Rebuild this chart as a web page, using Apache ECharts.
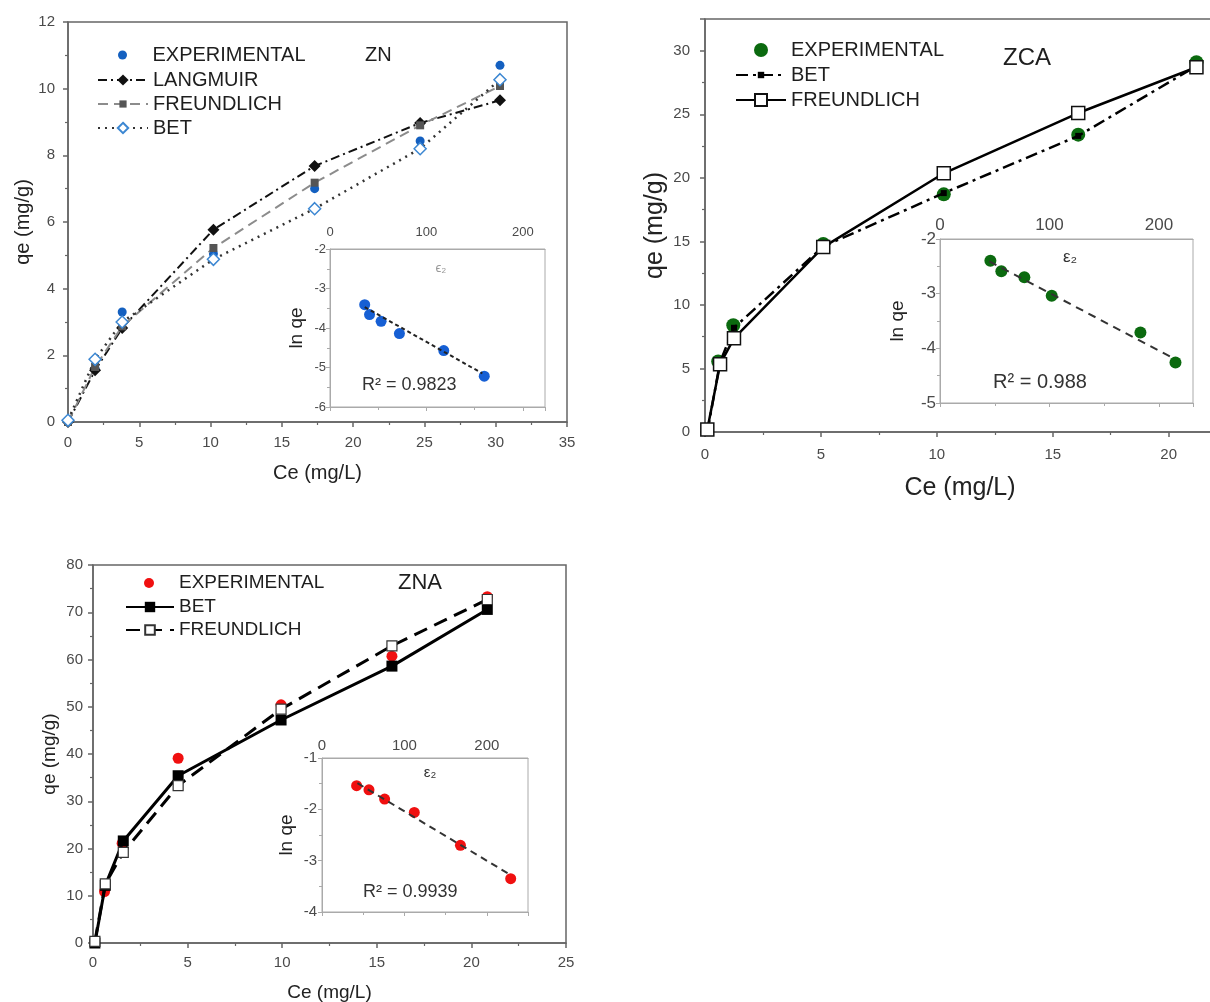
<!DOCTYPE html>
<html>
<head>
<meta charset="utf-8">
<script src="https://cdn.jsdelivr.net/npm/echarts@6/dist/echarts.min.js"></script>
<style>
  html, body { margin: 0; padding: 0; background: #fff; }
  #main { width: 1210px; height: 1002px; }
</style>
</head>
<body>
<div id="main"></div>
<script>
(function () {
    'use strict';
    var FONT = "Arial, 'Liberation Sans', Helvetica, sans-serif";

    // ZN
    var znCeExp = [1.9, 3.8, 10.2, 17.3, 24.7, 30.3];
    var znExp = [1.6, 3.3, 5.05, 7.0, 8.43, 10.7];
    var znCeFit = [0, 1.9, 3.8, 10.2, 17.3, 24.7, 30.3];
    var znLangmuir = [0, 1.55, 2.82, 5.77, 7.68, 8.97, 9.65];
    var znFreundlich = [0, 1.65, 2.87, 5.22, 7.18, 8.9, 10.08];
    var znBet = [0.05, 1.88, 3.0, 4.88, 6.4, 8.2, 10.27];
    var znEps = [36, 41, 53, 72, 118, 160];
    var znLnqe = [-3.41, -3.66, -3.83, -4.14, -4.57, -5.22];
    var znFitEps = [36, 158];
    var znFitLnqe = [-3.47, -5.15];

    // ZCA
    var zcaCeExp = [0.57, 1.22, 5.1, 10.3, 16.1, 21.2];
    var zcaExp = [5.55, 8.4, 14.8, 18.7, 23.4, 29.1];
    var zcaCeFit = [0.1, 0.65, 1.25, 5.1, 10.3, 16.1, 21.2];
    var zcaBet = [0, 5.5, 8.2, 14.6, 18.8, 23.3, 28.8];
    var zcaFreundlich = [0.2, 5.34, 7.37, 14.55, 20.36, 25.1, 28.7];
    var zcaEps = [46, 56, 77, 102, 183, 215];
    var zcaLnqe = [-2.40, -2.59, -2.70, -3.04, -3.71, -4.26];
    var zcaFitEps = [45, 214];
    var zcaFitLnqe = [-2.41, -4.19];

    // ZNA
    var znaCeExp = [0.61, 1.54, 4.5, 9.94, 15.8, 20.84];
    var znaExp = [10.9, 21.1, 39.1, 50.4, 60.7, 73.3];
    var znaCeFit = [0.1, 0.65, 1.6, 4.5, 9.94, 15.8, 20.84];
    var znaBet = [0, 12.2, 21.6, 35.4, 47.2, 58.6, 70.6];
    var znaFreundlich = [0.35, 12.5, 19.2, 33.3, 49.5, 62.9, 72.7];
    var znaEps = [42, 57, 76, 112, 168, 229];
    var znaLnqe = [-1.54, -1.62, -1.80, -2.06, -2.70, -3.35];
    var znaFitEps = [43, 228];
    var znaFitLnqe = [-1.49, -3.27];

    function pairs(xs, ys) {
        return xs.map(function (x, i) { return [x, ys[i]]; });
    }

    var AXIS = '#666';
    var LABEL = '#4a4a4a';

    function mainX(gi, max, fs, nameFs, gap, margin, showMax) {
        return {
            type: 'value', gridIndex: gi, min: 0, max: max, interval: 5,
            name: 'Ce (mg/L)', nameLocation: 'middle', nameGap: gap,
            nameTextStyle: { fontFamily: FONT, fontSize: nameFs, color: '#222' },
            axisLine: { show: true, onZero: false, lineStyle: { color: AXIS, width: 1.5 } },
            axisTick: { show: true, length: 5, lineStyle: { color: AXIS, width: 1.5 } },
            minorTick: { show: true, splitNumber: 2, length: 3, lineStyle: { color: AXIS, width: 1.2 } },
            axisLabel: { fontFamily: FONT, fontSize: fs, color: LABEL, margin: margin, showMaxLabel: showMax },
            splitLine: { show: false }
        };
    }

    function mainY(gi, max, interval, fs, nameFs, gap, margin, showMax) {
        return {
            type: 'value', gridIndex: gi, min: 0, max: max, interval: interval,
            name: 'qe (mg/g)', nameLocation: 'middle', nameGap: gap,
            nameTextStyle: { fontFamily: FONT, fontSize: nameFs, color: '#222' },
            axisLine: { show: true, onZero: false, lineStyle: { color: AXIS, width: 1.5 } },
            axisTick: { show: true, length: 5, lineStyle: { color: AXIS, width: 1.5 } },
            minorTick: { show: true, splitNumber: 2, length: 3, lineStyle: { color: AXIS, width: 1.2 } },
            axisLabel: { fontFamily: FONT, fontSize: fs, color: LABEL, margin: margin, showMaxLabel: showMax },
            splitLine: { show: false }
        };
    }

    function insetTopX(gi, max, fs, margin) {
        return {
            type: 'value', gridIndex: gi, position: 'top', min: 0, max: max, interval: 100,
            axisLine: { show: true, lineStyle: { color: '#aaa' } },
            axisTick: { show: false },
            axisLabel: { fontFamily: FONT, fontSize: fs, color: LABEL, margin: margin, showMaxLabel: false },
            splitLine: { show: false }
        };
    }

    function insetBottomX(gi, max) {
        return {
            type: 'value', gridIndex: gi, position: 'bottom', min: 0, max: max, interval: 100,
            axisLine: { show: true, lineStyle: { color: '#aaa' } },
            axisTick: { show: true, length: 4, lineStyle: { color: '#aaa' } },
            minorTick: { show: true, splitNumber: 2, length: 3, lineStyle: { color: '#aaa' } },
            axisLabel: { show: false },
            splitLine: { show: false }
        };
    }

    function insetY(gi, min, max, fs, nameFs, gap, margin) {
        return {
            type: 'value', gridIndex: gi, min: min, max: max, interval: 1,
            name: 'ln qe', nameLocation: 'middle', nameGap: gap,
            nameTextStyle: { fontFamily: FONT, fontSize: nameFs, color: '#222' },
            axisLine: { show: true, onZero: false, lineStyle: { color: '#aaa' } },
            axisTick: { show: true, length: 4, lineStyle: { color: '#aaa' } },
            minorTick: { show: true, splitNumber: 2, length: 3, lineStyle: { color: '#aaa' } },
            axisLabel: { fontFamily: FONT, fontSize: fs, color: LABEL, margin: margin },
            splitLine: { show: false }
        };
    }

    function legendRow(name, left, cy, w, h, fs) {
        return {
            data: [name], left: left, top: cy - Math.max(h, fs) / 2, orient: 'vertical', padding: 0,
            itemWidth: w, itemHeight: h, selectedMode: false,
            formatter: function (n) { return n.split('|')[1]; },
            textStyle: { fontFamily: FONT, fontSize: fs, color: '#1e1e1e' }
        };
    }

    function label(text, x, y, fs, color, align) {
        return {
            type: 'text', x: x, y: y, z: 100,
            style: { text: text, fontFamily: FONT, fontSize: fs, fill: color, align: align || 'left', verticalAlign: 'middle' }
        };
    }

    var mainGrid = { show: true, borderColor: AXIS, borderWidth: 1.5, outerBoundsMode: 'none' };
    var insetGrid = { show: true, borderColor: '#aaa', borderWidth: 1, backgroundColor: '#fff', outerBoundsMode: 'none' };
    function grid(base, l, t, w, h) {
        return Object.assign({}, base, { left: l, top: t, width: w, height: h });
    }

    var option = {
        animation: false,
        backgroundColor: '#fff',
        grid: [
            grid(mainGrid, 68, 22, 499, 400),
            grid(insetGrid, 330, 249, 215, 158),
            grid(mainGrid, 705, 19, 510, 413),
            grid(insetGrid, 940, 239, 253, 164),
            grid(mainGrid, 93, 565, 473, 378),
            grid(insetGrid, 322, 758, 206, 154)
        ],
        xAxis: [
            mainX(0, 35, 15, 20, 41, 13, true),
            insetTopX(1, 223, 13, 10),
            insetBottomX(1, 223),
            mainX(2, 22, 15, 25, 44, 15, false),
            insetTopX(3, 231, 17, 5),
            insetBottomX(3, 231),
            mainX(4, 25, 15, 19, 40, 12, true),
            insetTopX(5, 250, 15, 5),
            insetBottomX(5, 250)
        ],
        yAxis: [
            mainY(0, 12, 2, 15, 20, 35, 13, true),
            insetY(1, -6, -2, 13, 19, 24, 4),
            mainY(2, 32.5, 5, 15, 25, 37, 15, false),
            insetY(3, -5, -2, 17, 19, 33, 4),
            mainY(4, 80, 10, 15, 19, 34, 10, true),
            insetY(5, -4, -1, 15, 19, 26, 5)
        ],
        legend: [
            legendRow('ZN|EXPERIMENTAL', 118, 55, 50, 9, 20),
            legendRow('ZN|LANGMUIR', 97, 80, 50, 14, 20),
            legendRow('ZN|FREUNDLICH', 97, 104, 50, 9, 20),
            legendRow('ZN|BET', 97, 128, 50, 13, 20),
            legendRow('ZCA|EXPERIMENTAL', 754, 50, 50, 14, 20),
            legendRow('ZCA|BET', 735, 75, 50, 8, 20),
            legendRow('ZCA|FREUNDLICH', 735, 100, 50, 15, 20),
            legendRow('ZNA|EXPERIMENTAL', 144, 583, 50, 10, 19),
            legendRow('ZNA|BET', 125, 607, 48, 13, 19),
            legendRow('ZNA|FREUNDLICH', 125, 630, 48, 12, 19)
        ],
        graphic: [
            label('ZN', 365, 55, 20, '#1e1e1e'),
            label('ZCA', 1003, 58, 24, '#1e1e1e'),
            label('ZNA', 398, 583, 22, '#1e1e1e'),
            label('R\u00b2 = 0.9823', 362, 385, 18, '#333'),
            label('R\u00b2 = 0.988', 993, 382, 20, '#333'),
            label('R\u00b2 = 0.9939', 363, 892, 18, '#333'),
            label('\u03f5\u2082', 441, 268, 13, '#999', 'center'),
            label('\u03b5\u2082', 1070, 257, 17, '#333', 'center'),
            label('\u03b5\u2082', 430, 773, 15, '#333', 'center')
        ],
        series: [
            // ZN main
            {
                name: 'ZN|EXPERIMENTAL', type: 'scatter', xAxisIndex: 0, yAxisIndex: 0,
                data: pairs(znCeExp, znExp), symbol: 'circle', symbolSize: 9,
                itemStyle: { color: '#1460c0', opacity: 1 }, z: 2
            },
            {
                name: 'ZN|LANGMUIR', type: 'line', xAxisIndex: 0, yAxisIndex: 0,
                data: pairs(znCeFit, znLangmuir), symbol: 'diamond', symbolSize: 12,
                itemStyle: { color: '#111' },
                lineStyle: { color: '#111', width: 2, type: [9, 4, 2, 4] }, z: 3
            },
            {
                name: 'ZN|FREUNDLICH', type: 'line', xAxisIndex: 0, yAxisIndex: 0,
                data: pairs(znCeFit, znFreundlich), symbol: 'rect', symbolSize: 8,
                itemStyle: { color: '#555' },
                lineStyle: { color: '#8c8c8c', width: 2, type: [10, 6] }, z: 3
            },
            {
                name: 'ZN|BET', type: 'line', xAxisIndex: 0, yAxisIndex: 0,
                data: pairs(znCeFit, znBet), symbol: 'diamond', symbolSize: 12,
                itemStyle: { color: '#fff', borderColor: '#3c87d2', borderWidth: 1.5 },
                lineStyle: { color: '#333', width: 2.5, type: [2, 5] }, z: 3
            },
            // ZN inset
            {
                name: 'znInset', type: 'line', xAxisIndex: 1, yAxisIndex: 1,
                data: pairs(znFitEps, znFitLnqe), symbol: 'none',
                lineStyle: { color: '#222', width: 2, type: [4, 3] }
            },
            {
                name: 'znInsetPts', type: 'scatter', xAxisIndex: 1, yAxisIndex: 1,
                data: pairs(znEps, znLnqe), symbol: 'circle', symbolSize: 11,
                itemStyle: { color: '#165fd4', opacity: 1 }
            },
            // ZCA main
            {
                name: 'ZCA|EXPERIMENTAL', type: 'scatter', xAxisIndex: 3, yAxisIndex: 2,
                data: pairs(zcaCeExp, zcaExp), symbol: 'circle', symbolSize: 14,
                itemStyle: { color: '#0b6a0f', opacity: 1 }, z: 2
            },
            {
                name: 'ZCA|BET', type: 'line', xAxisIndex: 3, yAxisIndex: 2,
                data: pairs(zcaCeFit, zcaBet), symbol: 'rect', symbolSize: 6,
                itemStyle: { color: '#000' },
                lineStyle: { color: '#000', width: 2.5, type: [12, 5, 3, 5] }, z: 3
            },
            {
                name: 'ZCA|FREUNDLICH', type: 'line', xAxisIndex: 3, yAxisIndex: 2,
                data: pairs(zcaCeFit, zcaFreundlich), symbol: 'rect', symbolSize: 13,
                itemStyle: { color: '#fff', borderColor: '#111', borderWidth: 1.5 },
                lineStyle: { color: '#000', width: 2.5 }, z: 3
            },
            // ZCA inset
            {
                name: 'zcaInset', type: 'line', xAxisIndex: 4, yAxisIndex: 3,
                data: pairs(zcaFitEps, zcaFitLnqe), symbol: 'none',
                lineStyle: { color: '#333', width: 2, type: [8, 6] }
            },
            {
                name: 'zcaInsetPts', type: 'scatter', xAxisIndex: 4, yAxisIndex: 3,
                data: pairs(zcaEps, zcaLnqe), symbol: 'circle', symbolSize: 12,
                itemStyle: { color: '#0b6a0f', opacity: 1 }
            },
            // ZNA main
            {
                name: 'ZNA|EXPERIMENTAL', type: 'scatter', xAxisIndex: 6, yAxisIndex: 4,
                data: pairs(znaCeExp, znaExp), symbol: 'circle', symbolSize: 11,
                itemStyle: { color: '#f01010', opacity: 1 }, z: 2
            },
            {
                name: 'ZNA|BET', type: 'line', xAxisIndex: 6, yAxisIndex: 4,
                data: pairs(znaCeFit, znaBet), symbol: 'rect', symbolSize: 11,
                itemStyle: { color: '#000' },
                lineStyle: { color: '#000', width: 3 }, z: 3
            },
            {
                name: 'ZNA|FREUNDLICH', type: 'line', xAxisIndex: 6, yAxisIndex: 4,
                data: pairs(znaCeFit, znaFreundlich), symbol: 'rect', symbolSize: 10,
                itemStyle: { color: '#fff', borderColor: '#333', borderWidth: 1.2 },
                lineStyle: { color: '#000', width: 3, type: [14, 8] }, z: 3
            },
            // ZNA inset
            {
                name: 'znaInset', type: 'line', xAxisIndex: 7, yAxisIndex: 5,
                data: pairs(znaFitEps, znaFitLnqe), symbol: 'none',
                lineStyle: { color: '#333', width: 2, type: [7, 5] }
            },
            {
                name: 'znaInsetPts', type: 'scatter', xAxisIndex: 7, yAxisIndex: 5,
                data: pairs(znaEps, znaLnqe), symbol: 'circle', symbolSize: 11,
                itemStyle: { color: '#f01010', opacity: 1 }
            }
        ]
    };

    var chart = echarts.init(document.getElementById('main'), null, { renderer: 'canvas' });
    chart.setOption(option);
}());
</script>
</body>
</html>
